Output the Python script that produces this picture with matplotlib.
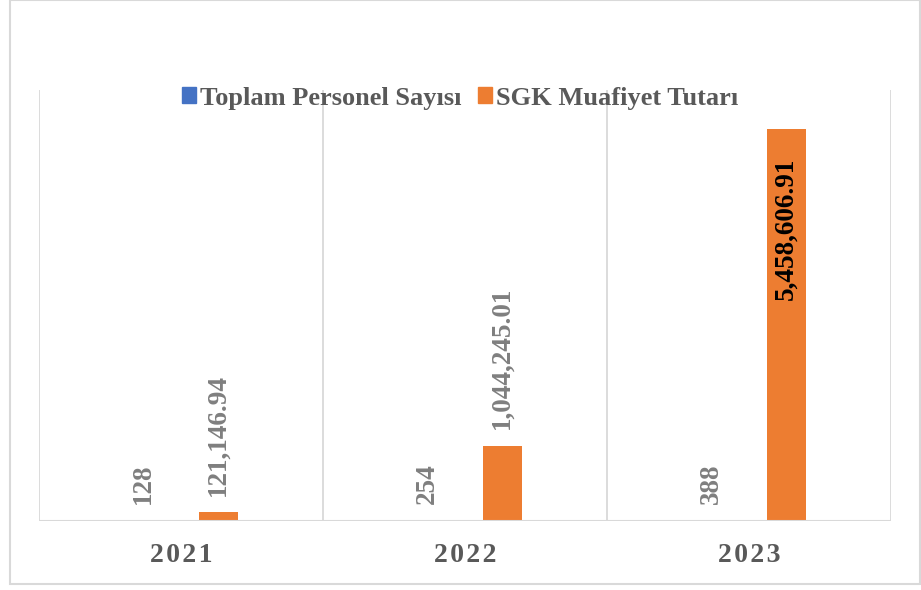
import matplotlib.pyplot as plt
import numpy as np
from matplotlib.patches import Rectangle

years = ["2021", "2022", "2023"]
personel = [128, 254, 388]
sgk = [121146.94, 1044245.01, 5458606.91]
sgk_labels = ["121,146.94", "1,044,245.01", "5,458,606.91"]

blue = "#4472C4"
orange = "#ED7D31"
grid = "#D9D9D9"
gray = "#595959"

plt.rcParams['font.family'] = ['Liberation Serif', 'DejaVu Serif']

fig = plt.figure(figsize=(9.21, 5.90), dpi=100)
ax = fig.add_axes([39 / 921, 1 - 521 / 590, 852 / 921, 431 / 590])

x = np.arange(len(years))
w = 0.137
off = 0.131
ax.bar(x - off, personel, w, color=blue)
ax.bar(x + off, sgk, w, color=orange)

ax.set_xlim(-0.5, 2.5)
ax.set_ylim(0, 6000000)

for b in [-0.5, 0.5, 1.5, 2.5]:
    ax.axvline(b, color=grid, lw=1.3, zorder=0)
for s in ax.spines.values():
    s.set_visible(False)
ax.axhline(0, color=grid, lw=1.5, zorder=3)
ax.set_yticks([])
ax.set_xticks(x)
# spaced-out year labels like the original
ax.set_xticklabels(["\u200a".join(y) for y in years], fontsize=20,
                   fontweight='bold', color=gray)
ax.tick_params(axis='x', length=0, pad=16)

# data labels
lab = dict(rotation=90, ha='center', fontsize=19.5, fontweight='bold',
           textcoords='offset points')
for i in range(len(years)):
    ax.annotate(str(personel[i]), (x[i] - off, personel[i]), xytext=(0, 12),
                va='bottom', color='#7F7F7F', **lab)
    if i < 2:
        ax.annotate(sgk_labels[i], (x[i] + off, sgk[i]), xytext=(0, 12),
                    va='bottom', color='#7F7F7F', **lab)
    else:
        ax.annotate(sgk_labels[i], (x[i] + off, sgk[i]), xytext=(0, -21),
                    va='top', color='black', **lab)

h1 = Rectangle((0, 0), 1, 1, color=blue)
h2 = Rectangle((0, 0), 1, 1, color=orange)
fig.legend([h1, h2], ["Toplam Personel Sayısı", "SGK Muafiyet Tutarı"],
           loc='center', bbox_to_anchor=(460 / 921, 1 - 98 / 590), ncol=2, frameon=False,
           prop={'size': 19, 'weight': 'bold'}, labelcolor=gray,
           handlelength=0.55, handleheight=0.55, handletextpad=0.15, columnspacing=0.6)

fig.patches.append(Rectangle((10 / 921, 6 / 590), 910 / 921, 584 / 590,
                             transform=fig.transFigure, fill=False,
                             edgecolor=grid, lw=1.5))

fig.savefig("out.png", dpi=100)
